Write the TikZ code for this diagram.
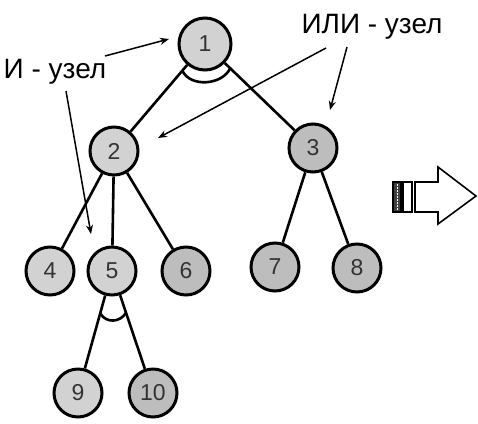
\documentclass[tikz,border=0pt]{standalone}
\usepackage{fontspec}
\setmainfont{Liberation Sans}
\usetikzlibrary{calc,arrows.meta}
\definecolor{lightnode}{HTML}{D2D2D2}
\definecolor{darknode}{HTML}{BDBDBD}
\definecolor{numgray}{HTML}{333333}
\tikzset{
  vertex/.style={circle,draw=black,line width=3pt,minimum size=48pt,inner sep=0pt,
    font=\fontsize{23}{23}\selectfont,text=numgray},
  lightv/.style={vertex,fill=lightnode},
  darkv/.style={vertex,fill=darknode},
  edge/.style={line width=2.6pt},
  andarc/.style={line width=2.6pt},
  pointer/.style={line width=1.5pt,-{Stealth[length=9pt,width=7pt]}},
  caption/.style={font=\fontsize{28}{28}\selectfont,inner sep=0pt},
  blockarrow/.style={line width=1.6pt,line join=miter}
}
\begin{document}
\begin{tikzpicture}[x=1pt,y=-1pt]
  \useasboundingbox (0,0) rectangle (478,423);

  % tree nodes
  \node[lightv,minimum size=52pt] (n1) at (205,44) {1};
  \node[lightv] (n2) at (114,151) {2};
  \node[darkv]  (n3) at (313,148) {3};
  \node[lightv] (n4) at (50,271) {4};
  \node[lightv] (n5) at (112,271) {5};
  \node[darkv]  (n6) at (186,271) {6};
  \node[darkv]  (n7) at (275,267) {7};
  \node[darkv]  (n8) at (357,268) {8};
  \node[lightv] (n9) at (78,393) {9};
  \node[darkv]  (n10) at (153,393) {10};

  % tree edges
  \draw[edge] (n1) -- (n2);
  \draw[edge] (n1) -- (n3);
  \draw[edge] (n2) -- (n4);
  \draw[edge] (n2) -- (n5);
  \draw[edge] (n2) -- (n6);
  \draw[edge] (n3) -- (n7);
  \draw[edge] (n3) -- (n8);
  \draw[edge] (n5) -- (n9);
  \draw[edge] (n5) -- (n10);

  % AND arcs joining the edges below nodes 1 and 5
  \coordinate (a1) at ($(n1)!35pt!(n2)$);
  \coordinate (b1) at ($(n1)!35pt!(n3)$);
  \draw[andarc] (a1) .. controls ($(a1)+(8,17)$) and ($(b1)+(-8,17)$) .. (b1);
  \coordinate (a5) at ($(n5)!44pt!(n9)$);
  \coordinate (b5) at ($(n5)!44pt!(n10)$);
  \draw[andarc] (a5) .. controls ($(a5)+(6,10)$) and ($(b5)+(-6,10)$) .. (b5);

  % captions and pointers
  \node[caption] (andlbl) at (55,72) {И - узел};
  \node[caption] (orlbl) at (372,27) {ИЛИ - узел};
  \coordinate (andp1) at (105,56);
  \coordinate (andt1) at (169,39);
  \coordinate (andp2) at (66,91);
  \coordinate (andt2) at (91,234);
  \coordinate (orp1) at (326,48);
  \coordinate (ort1) at (158,138);
  \coordinate (orp2) at (347,47);
  \coordinate (ort2) at (330,110);
  \draw[pointer] (andp1) -- (andt1);
  \draw[pointer] (andp2) -- (andt2);
  \draw[pointer] (orp1) -- (ort1);
  \draw[pointer] (orp2) -- (ort2);

  % block arrow on the right
  \draw[blockarrow,fill=black!75] (393,182) rectangle (401,212);
  \draw[white,line width=1pt,dash pattern=on 1.5pt off 1.5pt] (397,184) -- (397,210);
  \draw[blockarrow] (403,182) rectangle (412,212);
  \draw[blockarrow] (415,182) -- (438,182) -- (438,167) -- (476,196)
    -- (438,224) -- (438,212) -- (415,212) -- cycle;
\end{tikzpicture}
\end{document}
